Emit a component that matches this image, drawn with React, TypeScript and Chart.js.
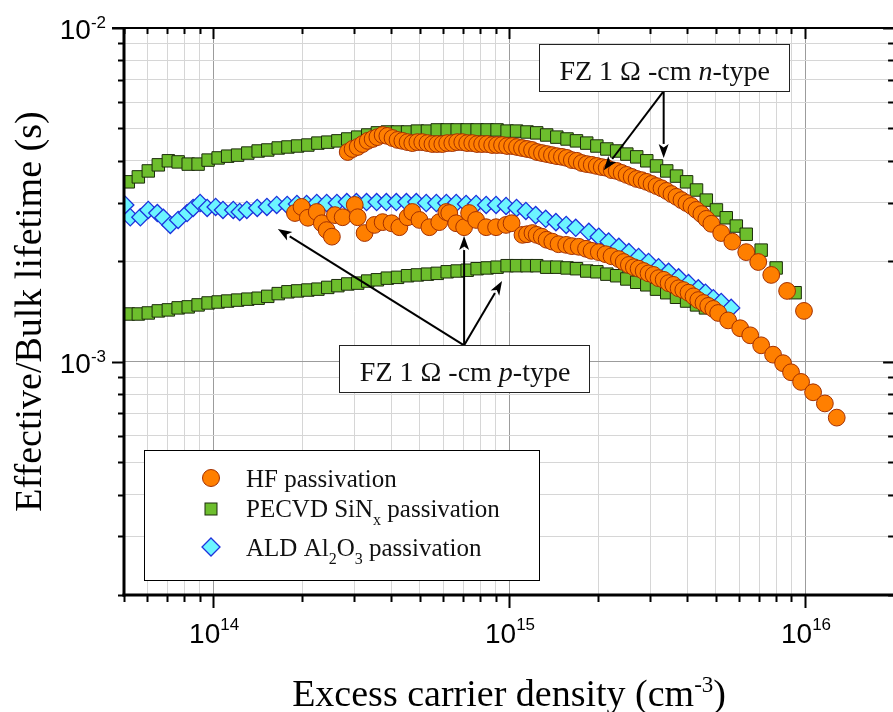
import React, { useEffect, useRef } from "react";
import { Chart, registerables } from "chart.js";

Chart.register(...registerables);

// ---------------- data ----------------
// HF passivation, n-type (upper orange circles)
const hfNX = [2.85e14, 2.96e14, 3.08e14, 3.2e14, 3.33e14, 3.46e14, 3.59e14, 3.74e14, 3.88e14, 4.04e14, 4.2e14, 4.36e14, 4.54e14, 4.71e14, 4.9e14, 5.09e14, 5.3e14, 5.51e14, 5.72e14, 5.95e14, 6.18e14, 6.43e14, 6.68e14, 6.95e14, 7.22e14, 7.51e14, 7.8e14, 8.11e14, 8.43e14, 8.77e14, 9.11e14, 9.47e14, 9.85e14, 1.024e15, 1.064e15, 1.106e15, 1.15e15, 1.196e15, 1.243e15, 1.292e15, 1.343e15, 1.396e15, 1.451e15, 1.509e15, 1.568e15, 1.63e15, 1.694e15, 1.761e15, 1.831e15, 1.903e15, 1.979e15, 2.057e15, 2.138e15, 2.223e15, 2.311e15, 2.402e15, 2.497e15, 2.596e15, 2.698e15, 2.805e15, 2.916e15, 3.031e15, 3.151e15, 3.275e15, 3.405e15, 3.539e15, 3.679e15, 3.825e15, 3.976e15, 4.133e15, 4.296e15, 4.466e15, 4.642e15, 4.826e15, 5.21e15, 5.68e15, 6.33e15, 6.95e15, 7.69e15, 8.7e15, 9.92e15];
const hfNY = [4.25e-3, 4.34e-3, 4.4e-3, 4.49e-3, 4.59e-3, 4.65e-3, 4.71e-3, 4.78e-3, 4.75e-3, 4.68e-3, 4.62e-3, 4.59e-3, 4.55e-3, 4.52e-3, 4.55e-3, 4.55e-3, 4.52e-3, 4.49e-3, 4.49e-3, 4.49e-3, 4.52e-3, 4.52e-3, 4.55e-3, 4.55e-3, 4.52e-3, 4.52e-3, 4.49e-3, 4.49e-3, 4.49e-3, 4.46e-3, 4.46e-3, 4.46e-3, 4.43e-3, 4.43e-3, 4.4e-3, 4.37e-3, 4.34e-3, 4.31e-3, 4.25e-3, 4.22e-3, 4.19e-3, 4.16e-3, 4.13e-3, 4.11e-3, 4.08e-3, 4.02e-3, 4.0e-3, 3.94e-3, 3.91e-3, 3.89e-3, 3.86e-3, 3.83e-3, 3.81e-3, 3.75e-3, 3.73e-3, 3.68e-3, 3.63e-3, 3.58e-3, 3.53e-3, 3.5e-3, 3.46e-3, 3.41e-3, 3.36e-3, 3.31e-3, 3.25e-3, 3.18e-3, 3.12e-3, 3.05e-3, 2.99e-3, 2.93e-3, 2.85e-3, 2.77e-3, 2.68e-3, 2.59e-3, 2.43e-3, 2.29e-3, 2.13e-3, 1.99e-3, 1.82e-3, 1.63e-3, 1.42e-3];

// HF passivation, p-type (lower orange circles)
const hfPX = [1.89e14, 1.99e14, 2.09e14, 2.24e14, 2.33e14, 2.42e14, 2.52e14, 2.58e14, 2.74e14, 3.01e14, 3.08e14, 3.25e14, 3.51e14, 3.74e14, 4.01e14, 4.26e14, 4.54e14, 4.71e14, 4.98e14, 5.38e14, 5.81e14, 6.14e14, 6.28e14, 6.63e14, 7.05e14, 7.33e14, 7.74e14, 8.37e14, 9.04e14, 9.77e14, 1.02e15, 1.11e15, 1.15e15, 1.2e15, 1.24e15, 1.29e15, 1.34e15, 1.4e15, 1.47e15, 1.56e15, 1.63e15, 1.72e15, 1.82e15, 1.9e15, 2.01e15, 2.12e15, 2.22e15, 2.35e15, 2.44e15, 2.54e15, 2.64e15, 2.74e15, 2.85e15, 2.96e15, 3.08e15, 3.2e15, 3.33e15, 3.46e15, 3.59e15, 3.74e15, 3.88e15, 4.04e15, 4.2e15, 4.36e15, 4.54e15, 4.71e15, 4.9e15, 5.09e15, 5.5e15, 6.04e15, 6.53e15, 7.11e15, 7.8e15, 8.43e15, 8.97e15, 9.7e15, 1.065e16, 1.167e16, 1.28e16];
const hfPY = [2.79e-3, 2.91e-3, 2.7e-3, 2.81e-3, 2.6e-3, 2.48e-3, 2.37e-3, 2.75e-3, 2.71e-3, 2.95e-3, 2.71e-3, 2.43e-3, 2.57e-3, 2.62e-3, 2.6e-3, 2.53e-3, 2.71e-3, 2.81e-3, 2.66e-3, 2.53e-3, 2.62e-3, 2.81e-3, 2.79e-3, 2.6e-3, 2.53e-3, 2.79e-3, 2.66e-3, 2.53e-3, 2.53e-3, 2.57e-3, 2.6e-3, 2.4e-3, 2.41e-3, 2.43e-3, 2.4e-3, 2.37e-3, 2.32e-3, 2.29e-3, 2.25e-3, 2.24e-3, 2.22e-3, 2.21e-3, 2.18e-3, 2.15e-3, 2.13e-3, 2.1e-3, 2.07e-3, 2.03e-3, 1.99e-3, 1.95e-3, 1.92e-3, 1.9e-3, 1.87e-3, 1.84e-3, 1.82e-3, 1.78e-3, 1.76e-3, 1.72e-3, 1.7e-3, 1.66e-3, 1.64e-3, 1.61e-3, 1.57e-3, 1.53e-3, 1.5e-3, 1.47e-3, 1.44e-3, 1.4e-3, 1.33e-3, 1.26e-3, 1.2e-3, 1.12e-3, 1.05e-3, 9.9e-4, 9.3e-4, 8.7e-4, 8.1e-4, 7.5e-4, 6.8e-4];

// PECVD SiNx, n-type (upper green squares)
const sinNX = [5.17e13, 5.59e13, 6.04e13, 6.53e13, 7.06e13, 7.62e13, 8.24e13, 8.9e13, 9.62e13, 1.04e14, 1.12e14, 1.21e14, 1.31e14, 1.42e14, 1.53e14, 1.66e14, 1.79e14, 1.93e14, 2.09e14, 2.26e14, 2.44e14, 2.64e14, 2.85e14, 3.08e14, 3.33e14, 3.59e14, 3.88e14, 4.2e14, 4.54e14, 4.9e14, 5.3e14, 5.72e14, 6.18e14, 6.68e14, 7.22e14, 7.8e14, 8.43e14, 9.11e14, 9.85e14, 1.06e15, 1.15e15, 1.24e15, 1.34e15, 1.45e15, 1.57e15, 1.69e15, 1.83e15, 1.98e15, 2.14e15, 2.31e15, 2.5e15, 2.7e15, 2.92e15, 3.15e15, 3.41e15, 3.68e15, 3.98e15, 4.3e15, 4.64e15, 5.02e15, 5.42e15, 5.86e15, 6.33e15, 7.11e15, 7.99e15, 9.26e15];
const sinNY = [3.46e-3, 3.58e-3, 3.73e-3, 3.89e-3, 4.0e-3, 3.97e-3, 3.91e-3, 3.91e-3, 4.02e-3, 4.08e-3, 4.13e-3, 4.16e-3, 4.22e-3, 4.28e-3, 4.31e-3, 4.37e-3, 4.4e-3, 4.43e-3, 4.46e-3, 4.52e-3, 4.55e-3, 4.59e-3, 4.65e-3, 4.71e-3, 4.78e-3, 4.85e-3, 4.88e-3, 4.88e-3, 4.88e-3, 4.91e-3, 4.91e-3, 4.95e-3, 4.95e-3, 4.95e-3, 4.95e-3, 4.95e-3, 4.95e-3, 4.95e-3, 4.91e-3, 4.91e-3, 4.88e-3, 4.85e-3, 4.78e-3, 4.71e-3, 4.65e-3, 4.59e-3, 4.52e-3, 4.43e-3, 4.34e-3, 4.28e-3, 4.19e-3, 4.11e-3, 4.0e-3, 3.86e-3, 3.73e-3, 3.6e-3, 3.46e-3, 3.27e-3, 3.05e-3, 2.85e-3, 2.7e-3, 2.55e-3, 2.41e-3, 2.16e-3, 1.91e-3, 1.61e-3];

// PECVD SiNx, p-type (lower green squares)
const sinPX = [5.17e13, 5.59e13, 6.04e13, 6.53e13, 7.06e13, 7.62e13, 8.24e13, 8.9e13, 9.62e13, 1.04e14, 1.12e14, 1.21e14, 1.31e14, 1.42e14, 1.53e14, 1.66e14, 1.79e14, 1.93e14, 2.09e14, 2.26e14, 2.44e14, 2.64e14, 2.85e14, 3.08e14, 3.33e14, 3.59e14, 3.88e14, 4.2e14, 4.54e14, 4.9e14, 5.3e14, 5.72e14, 6.18e14, 6.68e14, 7.22e14, 7.8e14, 8.43e14, 9.11e14, 9.85e14, 1.06e15, 1.15e15, 1.24e15, 1.34e15, 1.45e15, 1.57e15, 1.69e15, 1.83e15, 1.98e15, 2.14e15, 2.31e15, 2.5e15, 2.7e15, 2.92e15, 3.15e15, 3.41e15, 3.68e15, 3.98e15, 4.3e15, 4.61e15];
const sinPY = [1.39e-3, 1.39e-3, 1.4e-3, 1.42e-3, 1.43e-3, 1.45e-3, 1.46e-3, 1.48e-3, 1.5e-3, 1.51e-3, 1.52e-3, 1.53e-3, 1.54e-3, 1.55e-3, 1.57e-3, 1.6e-3, 1.62e-3, 1.63e-3, 1.64e-3, 1.65e-3, 1.67e-3, 1.69e-3, 1.71e-3, 1.72e-3, 1.745e-3, 1.76e-3, 1.78e-3, 1.79e-3, 1.81e-3, 1.82e-3, 1.83e-3, 1.84e-3, 1.86e-3, 1.87e-3, 1.88e-3, 1.9e-3, 1.91e-3, 1.92e-3, 1.94e-3, 1.94e-3, 1.94e-3, 1.94e-3, 1.92e-3, 1.92e-3, 1.91e-3, 1.9e-3, 1.87e-3, 1.86e-3, 1.83e-3, 1.81e-3, 1.77e-3, 1.73e-3, 1.7e-3, 1.65e-3, 1.61e-3, 1.56e-3, 1.52e-3, 1.48e-3, 1.45e-3];

// ALD Al2O3, p-type (cyan diamonds)
const aldPX = [5.05e13, 5.25e13, 5.68e13, 6.04e13, 6.48e13, 6.79e13, 7.17e13, 7.62e13, 8.17e13, 8.56e13, 9.04e13, 9.55e13, 1.02e14, 1.08e14, 1.17e14, 1.23e14, 1.3e14, 1.41e14, 1.52e14, 1.64e14, 1.78e14, 1.92e14, 2.07e14, 2.24e14, 2.42e14, 2.62e14, 2.83e14, 3.05e14, 3.3e14, 3.57e14, 3.85e14, 4.16e14, 4.5e14, 4.86e14, 5.25e14, 5.68e14, 6.14e14, 6.63e14, 7.16e14, 7.74e14, 8.37e14, 9.04e14, 9.77e14, 1.06e15, 1.14e15, 1.23e15, 1.33e15, 1.44e15, 1.56e15, 1.68e15, 1.86e15, 2.01e15, 2.17e15, 2.35e15, 2.54e15, 2.74e15, 2.96e15, 3.2e15, 3.46e15, 3.74e15, 4.04e15, 4.36e15, 4.61e15, 4.9e15, 5.21e15, 5.63e15];
const aldPY = [2.95e-3, 2.71e-3, 2.71e-3, 2.85e-3, 2.79e-3, 2.7e-3, 2.57e-3, 2.66e-3, 2.79e-3, 2.89e-3, 2.99e-3, 2.89e-3, 2.91e-3, 2.85e-3, 2.85e-3, 2.81e-3, 2.85e-3, 2.89e-3, 2.91e-3, 2.95e-3, 2.95e-3, 2.97e-3, 2.97e-3, 2.99e-3, 2.99e-3, 2.99e-3, 3.01e-3, 3.01e-3, 3.01e-3, 3.01e-3, 3.01e-3, 3.01e-3, 3.01e-3, 3.01e-3, 2.99e-3, 2.99e-3, 2.99e-3, 2.99e-3, 2.97e-3, 2.97e-3, 2.95e-3, 2.95e-3, 2.93e-3, 2.89e-3, 2.83e-3, 2.75e-3, 2.68e-3, 2.62e-3, 2.57e-3, 2.52e-3, 2.45e-3, 2.37e-3, 2.29e-3, 2.21e-3, 2.13e-3, 2.06e-3, 1.99e-3, 1.92e-3, 1.86e-3, 1.79e-3, 1.72e-3, 1.66e-3, 1.61e-3, 1.55e-3, 1.51e-3, 1.45e-3];

// axes
const X_MIN = 5e13;
const X_MAX = 2e16;
const Y_MIN = 2e-4;
const Y_MAX = 1e-2;
const X_TICKS = [5e13, 6e13, 7e13, 8e13, 9e13, 1e14, 2e14, 3e14, 4e14, 5e14, 6e14, 7e14, 8e14, 9e14, 1e15, 2e15, 3e15, 4e15, 5e15, 6e15, 7e15, 8e15, 9e15, 1e16, 2e16];
const Y_TICKS = [2e-4, 3e-4, 4e-4, 5e-4, 6e-4, 7e-4, 8e-4, 9e-4, 1e-3, 2e-3, 3e-3, 4e-3, 5e-3, 6e-3, 7e-3, 8e-3, 9e-3, 1e-2];
const X_LABELED = [1e14, 1e15, 1e16];
const Y_LABELED = [1e-3, 1e-2];

// texts
const X_TITLE = "Excess carrier density (cm";
const X_TITLE_SUP = "-3";
const X_TITLE_END = ")";
const Y_TITLE = "Effective/Bulk lifetime (s)";
const LEGEND_HF = [{ t: "HF passivation" }];
const LEGEND_SIN = [{ t: "PECVD SiN" }, { t: "x", sub: true }, { t: " passivation" }];
const LEGEND_ALD = [{ t: "ALD Al" }, { t: "2", sub: true }, { t: "O" }, { t: "3", sub: true }, { t: " passivation" }];
const NOTE_N = [{ t: "FZ 1 \u03A9 -cm " }, { t: "n", it: true }, { t: "-type" }];
const NOTE_P = [{ t: "FZ 1 \u03A9 -cm " }, { t: "p", it: true }, { t: "-type" }];
// annotation anchors (data coordinates)
const NOTE_N_ORIGIN = [3.33e15, 6.47e-3];
const NOTE_N_TIPS = [[2.09e15, 3.75e-3], [3.33e15, 4.08e-3]];
const NOTE_P_ORIGIN = [7.05e14, 1.12e-3];
const NOTE_P_TIPS = [[1.655e14, 2.5e-3], [7.05e14, 2.38e-3], [9.47e14, 1.745e-3]];

// styles
const SANS = "'Liberation Sans', Arial, sans-serif";
const SERIF = "'Liberation Serif', 'Times New Roman', serif";
const ORANGE = "#FF7F00";
const ORANGE_EDGE = "#A33000";
const GREEN = "#6DBE2D";
const GREEN_EDGE = "#1C2C0C";
const CYAN = "#6CF5FF";
const CYAN_EDGE = "#1E32DC";

const pts = (xs: number[], ys: number[]) => xs.map((x, i) => ({ x, y: ys[i] }));
const isPow10 = (v: number) => Math.abs(Math.log10(v) - Math.round(Math.log10(v))) < 1e-9;

type Seg = { t: string; sub?: boolean; sup?: boolean; it?: boolean };

function drawSegs(ctx: CanvasRenderingContext2D, segs: Seg[], x: number, y: number, size: number, family: string, align: string, smallSize?: number, subDy?: number, supDy?: number) {
  const small = smallSize || Math.round(size * 0.64);
  const parts = segs.map((s) => {
    const fs = s.sub || s.sup ? small : size;
    const font = `${s.it ? "italic " : ""}${fs}px ${family}`;
    ctx.font = font;
    const w = ctx.measureText(s.t).width;
    const dy = s.sub ? (subDy ?? size * 0.28) : s.sup ? (supDy ?? -size * 0.4) : 0;
    return { t: s.t, font, w, dy };
  });
  const total = parts.reduce((a, p) => a + p.w, 0);
  let cx = align === "center" ? x - total / 2 : align === "right" ? x - total : x;
  ctx.textAlign = "left";
  ctx.textBaseline = "alphabetic";
  for (const p of parts) {
    ctx.font = p.font;
    ctx.fillText(p.t, cx, y + p.dy);
    cx += p.w;
  }
  return total;
}

function drawArrow(ctx: CanvasRenderingContext2D, x1: number, y1: number, x2: number, y2: number) {
  const ang = Math.atan2(y2 - y1, x2 - x1);
  const head = 14;
  const half = 5;
  const bx = x2 - head * Math.cos(ang);
  const by = y2 - head * Math.sin(ang);
  ctx.beginPath();
  ctx.moveTo(x1, y1);
  ctx.lineTo(bx, by);
  ctx.lineWidth = 2;
  ctx.strokeStyle = "#000";
  ctx.stroke();
  ctx.beginPath();
  ctx.moveTo(x2, y2);
  ctx.lineTo(bx + half * Math.sin(ang), by - half * Math.cos(ang));
  ctx.lineTo(bx + head * 0.25 * Math.cos(ang), by + head * 0.25 * Math.sin(ang));
  ctx.lineTo(bx - half * Math.sin(ang), by + half * Math.cos(ang));
  ctx.closePath();
  ctx.fillStyle = "#000";
  ctx.fill();
}

const overlay = {
  id: "overlay",
  afterDraw(chart: any) {
    const ctx: CanvasRenderingContext2D = chart.ctx;
    const { left, right, top, bottom } = chart.chartArea;
    const xs = chart.scales.x;
    const ys = chart.scales.y;
    ctx.save();
    ctx.strokeStyle = "#000";
    ctx.fillStyle = "#000";

    // frame
    ctx.lineWidth = 3;
    ctx.beginPath();
    ctx.moveTo(left, top - 1);
    ctx.lineTo(left, bottom + 1.5);
    ctx.stroke();
    ctx.beginPath();
    ctx.moveTo(left - 1.5, bottom);
    ctx.lineTo(right + 1, bottom);
    ctx.stroke();
    ctx.lineWidth = 2.2;
    ctx.beginPath();
    ctx.moveTo(left - 12, top);
    ctx.lineTo(right, top);
    ctx.lineTo(right, bottom);
    ctx.stroke();

    // x ticks
    ctx.lineWidth = 2;
    for (const v of X_TICKS) {
      const px = Math.round(xs.getPixelForValue(v)) + 0.5;
      const major = isPow10(v);
      ctx.beginPath();
      ctx.moveTo(px, bottom);
      ctx.lineTo(px, bottom + (major ? 13 : 7));
      ctx.moveTo(px, top);
      ctx.lineTo(px, top + (major ? 11 : 6));
      ctx.stroke();
    }
    // y ticks
    for (const v of Y_TICKS) {
      const py = Math.round(ys.getPixelForValue(v)) + 0.5;
      const major = isPow10(v);
      ctx.beginPath();
      ctx.moveTo(left, py);
      ctx.lineTo(left - (major ? 12 : 6), py);
      ctx.moveTo(right, py);
      ctx.lineTo(right - (major ? 11 : 6), py);
      ctx.stroke();
    }

    // tick labels
    ctx.fillStyle = "#000";
    for (const v of X_LABELED) {
      const px = xs.getPixelForValue(v);
      const e = String(Math.round(Math.log10(v)));
      drawSegs(ctx, [{ t: "10" }, { t: e, sup: true }], px + 1, bottom + 48, 28, SANS, "center", 17, 0, -13);
    }
    for (const v of Y_LABELED) {
      const py = ys.getPixelForValue(v);
      const e = String(Math.round(Math.log10(v)));
      drawSegs(ctx, [{ t: "10" }, { t: e, sup: true }], left - 18, py + 11, 28, SANS, "right", 17, 0, -11);
    }

    // axis titles
    drawSegs(ctx, [{ t: X_TITLE }, { t: X_TITLE_SUP, sup: true }, { t: X_TITLE_END }], (left + right) / 2, 706, 38, SERIF, "center", 23, 0, -14);
    ctx.save();
    ctx.translate(41, (top + bottom) / 2);
    ctx.rotate(-Math.PI / 2);
    drawSegs(ctx, [{ t: Y_TITLE }], 0, 0, 38, SERIF, "center");
    ctx.restore();

    // legend box
    const lx = left + 20;
    const ly = bottom - 145;
    const lw = 395;
    const lh = 130;
    ctx.fillStyle = "#fff";
    ctx.fillRect(lx, ly, lw, lh);
    ctx.lineWidth = 1;
    ctx.strokeStyle = "#000";
    ctx.strokeRect(lx + 0.5, ly + 0.5, lw, lh);
    const mx = lx + 67;
    const tx = lx + 102;
    // circle
    ctx.beginPath();
    ctx.arc(mx, ly + 28, 8.5, 0, Math.PI * 2);
    ctx.fillStyle = ORANGE;
    ctx.fill();
    ctx.strokeStyle = ORANGE_EDGE;
    ctx.lineWidth = 1;
    ctx.stroke();
    // square
    ctx.fillStyle = GREEN;
    ctx.fillRect(mx - 6, ly + 53, 12, 12);
    ctx.strokeStyle = GREEN_EDGE;
    ctx.strokeRect(mx - 6, ly + 53, 12, 12);
    // diamond
    ctx.beginPath();
    ctx.moveTo(mx, ly + 88);
    ctx.lineTo(mx + 9, ly + 97);
    ctx.lineTo(mx, ly + 106);
    ctx.lineTo(mx - 9, ly + 97);
    ctx.closePath();
    ctx.fillStyle = CYAN;
    ctx.fill();
    ctx.strokeStyle = CYAN_EDGE;
    ctx.lineWidth = 1.3;
    ctx.stroke();
    ctx.fillStyle = "#111";
    drawSegs(ctx, LEGEND_HF, tx, ly + 37, 25, SERIF, "left");
    drawSegs(ctx, LEGEND_SIN, tx, ly + 67, 25, SERIF, "left", 16, 8, 0);
    drawSegs(ctx, LEGEND_ALD, tx, ly + 106, 25, SERIF, "left", 16, 8, 0);

    // annotations
    const note = (segs: Seg[], origin: number[], tips: number[][], above: boolean) => {
      const ox = xs.getPixelForValue(origin[0]);
      const oy = ys.getPixelForValue(origin[1]);
      for (const t of tips) {
        drawArrow(ctx, ox, oy, xs.getPixelForValue(t[0]), ys.getPixelForValue(t[1]));
      }
      const bw = 250;
      const bh = 47;
      const bx = Math.round(ox - bw / 2) + 0.5;
      const by = Math.round(above ? oy - bh : oy) + 0.5;
      ctx.fillStyle = "#fff";
      ctx.fillRect(bx, by, bw, bh);
      ctx.strokeStyle = "#222";
      ctx.lineWidth = 1;
      ctx.strokeRect(bx, by, bw, bh);
      ctx.fillStyle = "#111";
      drawSegs(ctx, segs, ox + 1, by + bh - 12, 28, SERIF, "center");
    };
    note(NOTE_N, NOTE_N_ORIGIN, NOTE_N_TIPS, true);
    note(NOTE_P, NOTE_P_ORIGIN, NOTE_P_TIPS, false);

    ctx.restore();
  },
};

export default function App() {
  const ref = useRef<HTMLCanvasElement | null>(null);
  useEffect(() => {
    if (!ref.current) return;
    const circle = { pointStyle: "circle", pointRadius: 8.4, backgroundColor: ORANGE, borderColor: ORANGE_EDGE, borderWidth: 1 };
    const square = { pointStyle: "rect", pointRadius: 8.8, backgroundColor: GREEN, borderColor: GREEN_EDGE, borderWidth: 1 };
    const diamond = { pointStyle: "rectRot", pointRadius: 8.6, backgroundColor: CYAN, borderColor: CYAN_EDGE, borderWidth: 1.3 };
    const chart = new Chart(ref.current, {
      type: "scatter",
      data: {
        datasets: [
          { label: "PECVD SiNx passivation (p)", data: pts(sinPX, sinPY), order: 5, ...square },
          { label: "PECVD SiNx passivation (n)", data: pts(sinNX, sinNY), order: 4, ...square },
          { label: "ALD Al2O3 passivation", data: pts(aldPX, aldPY), order: 3, ...diamond },
          { label: "HF passivation (p)", data: pts(hfPX, hfPY), order: 2, ...circle },
          { label: "HF passivation (n)", data: pts(hfNX, hfNY), order: 1, ...circle },
        ] as any,
      },
      options: {
        responsive: false,
        animation: false,
        devicePixelRatio: 1,
        events: [],
        layout: { padding: { left: 124, top: 28, right: 8, bottom: 117 } },
        plugins: { legend: { display: false }, tooltip: { enabled: false } },
        scales: {
          x: {
            type: "logarithmic",
            min: X_MIN,
            max: X_MAX,
            afterBuildTicks: (s: any) => {
              s.ticks = X_TICKS.map((v) => ({ value: v }));
            },
            afterFit: (s: any) => {
              s.height = 0;
            },
            ticks: { display: false },
            border: { display: false },
            grid: {
              drawTicks: false,
              lineWidth: 1,
              color: (c: any) => (c.tick && isPow10(c.tick.value) ? "#9c9c9c" : "#d6d6d6"),
            },
          },
          y: {
            type: "logarithmic",
            min: Y_MIN,
            max: Y_MAX,
            afterBuildTicks: (s: any) => {
              s.ticks = Y_TICKS.map((v) => ({ value: v }));
            },
            afterFit: (s: any) => {
              s.width = 0;
            },
            ticks: { display: false },
            border: { display: false },
            grid: {
              drawTicks: false,
              lineWidth: 1,
              color: (c: any) => (c.tick && isPow10(c.tick.value) ? "#9c9c9c" : "#d6d6d6"),
            },
          },
        },
      } as any,
      plugins: [overlay],
    });
    return () => chart.destroy();
  }, []);
  return (
    <canvas
      ref={ref}
      width={904}
      height={712}
      style={{ position: "fixed", left: 0, top: 0, width: 904, height: 712, background: "#fff" }}
    />
  );
}
